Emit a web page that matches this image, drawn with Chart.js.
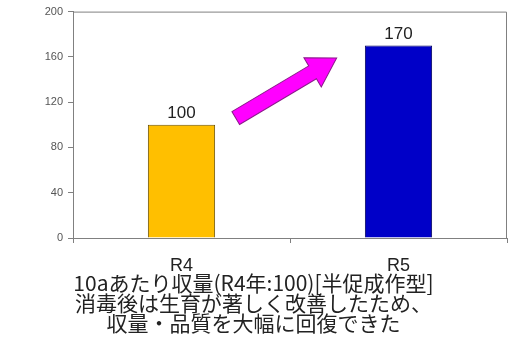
<!DOCTYPE html>
<html><head><meta charset="utf-8">
<script src="https://cdn.jsdelivr.net/npm/chart.js@4"></script>
<style>html,body{margin:0;padding:0;background:#fff}#wrap{width:510px;height:352px}</style>
</head><body><div id="wrap"><canvas id="c" width="510" height="352"></canvas></div>
<script>
const categories = ["R4", "R5"];
const values = [100, 170];
const barColors = ["#FFBF00", "#0000C8"];
const yTicks = [0, 40, 80, 120, 160, 200];
const caption = ["10aあたり収量(R4年:100)[半促成作型]", "消毒後は生育が著しく改善したため、", "収量・品質を大幅に回復できた"];

const framePlugin = {
  id: 'frame',
  afterDatasetsDraw(chart) {
    const {ctx, chartArea: a} = chart;
    ctx.save();
    ctx.strokeStyle = '#808080'; ctx.lineWidth = 1;
    ctx.beginPath();
    ctx.moveTo(a.left, a.top + 0.5); ctx.lineTo(a.right - 0.5, a.top + 0.5); ctx.lineTo(a.right - 0.5, a.bottom);
    ctx.stroke();
    // value labels
    const meta = chart.getDatasetMeta(0);
    ctx.fillStyle = '#222'; ctx.font = '17px "Liberation Sans", Arial, sans-serif';
    ctx.textAlign = 'center'; ctx.textBaseline = 'bottom';
    meta.data.forEach((el, i) => { ctx.fillText(String(values[i]), el.x, el.y - 3); });
    // arrow
    const xs = chart.scales.x, ys = chart.scales.y;
    const o = chart.options.plugins.frame.arrow;
    const x0 = xs.getPixelForValue(o.from[0]), y0 = ys.getPixelForValue(o.from[1]);
    const x1 = xs.getPixelForValue(o.to[0]), y1 = ys.getPixelForValue(o.to[1]);
    const ang = Math.atan2(y1 - y0, x1 - x0), len = Math.hypot(x1 - x0, y1 - y0);
    ctx.translate(x0, y0); ctx.rotate(ang);
    const sw = 7.5, hw = 17, hl = 28;
    ctx.beginPath();
    ctx.moveTo(0, -sw); ctx.lineTo(len - hl, -sw); ctx.lineTo(len - hl, -hw); ctx.lineTo(len, 0);
    ctx.lineTo(len - hl, hw); ctx.lineTo(len - hl, sw); ctx.lineTo(0, sw); ctx.closePath();
    ctx.fillStyle = '#FF00FF'; ctx.fill();
    ctx.strokeStyle = '#8B1A8B'; ctx.lineWidth = 1; ctx.stroke();
    ctx.restore();
  }
};

new Chart(document.getElementById('c'), {
  type: 'bar',
  data: { labels: categories, datasets: [{ data: values, backgroundColor: barColors, borderColor: ['#6b5000', '#00005a'], borderWidth: 1, barPercentage: 0.31, categoryPercentage: 1 }] },
  options: {
    responsive: false, animation: false, devicePixelRatio: 1,
    layout: { padding: { top: 11, right: 3, left: 0, bottom: 0 } },
    plugins: {
      legend: { display: false }, tooltip: { enabled: false },
      title: { display: true, position: 'bottom', text: caption, color: '#222',
        font: { family: '"Noto Sans CJK JP", sans-serif', size: 21, weight: 'normal', lineHeight: '20px' },
        padding: { top: 0, bottom: 19 } },
      frame: { arrow: { from: [0.25, 106], to: [0.715, 159] } }
    },
    scales: {
      x: {
        grid: { display: true, drawOnChartArea: false, drawTicks: true, tickLength: 5, color: '#808080', offset: true },
        border: { color: '#808080' },
        ticks: { color: '#222', padding: 12, font: { family: '"Liberation Sans", Arial, sans-serif', size: 18 } },
        afterFit(s) { s.height = 35; }
      },
      y: {
        min: 0, max: 200,
        afterBuildTicks(s) { s.ticks = yTicks.map(v => ({ value: v })); },
        grid: { display: true, drawOnChartArea: false, drawTicks: true, tickLength: 5, color: '#808080' },
        border: { color: '#808080' },
        ticks: { color: '#555', padding: 5, font: { family: '"Liberation Sans", Arial, sans-serif', size: 11 } },
        afterFit(s) { s.width = 73; }
      }
    }
  },
  plugins: [framePlugin]
});
</script></body></html>
